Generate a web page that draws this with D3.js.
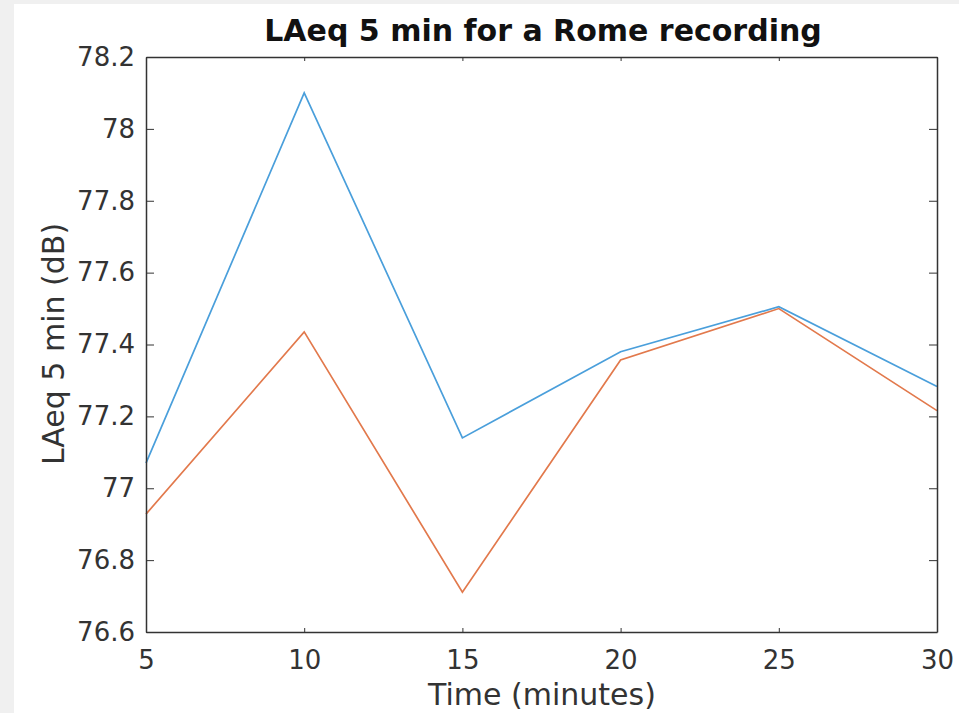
<!DOCTYPE html>
<html>

<head>
    <script src="https://d3js.org/d3.v7.min.js"></script>
    <style>
        body {
            margin: 0;
            background: #f0f0f0;
            font-family: "DejaVu Sans", sans-serif;
        }

        .axis text {
            font-family: "DejaVu Sans", sans-serif;
            font-size: 26px;
            fill: #333;
        }

        .axis path,
        .axis line {
            stroke: #333;
        }

        .axis-title {
            font-size: 30px;
            fill: #333;
        }

        .chart-title {
            font-size: 30px;
            font-weight: bold;
            fill: #111;
        }
    </style>
</head>

<body>
    <script>
        // data
        var minutes = [5, 10, 15, 20, 25, 30];
        var laeqA = [77.07, 78.10, 77.14, 77.38, 77.505, 77.283];
        var laeqB = [76.928, 77.435, 76.711, 77.357, 77.50, 77.216];
        var yTicks = [76.6, 76.8, 77, 77.2, 77.4, 77.6, 77.8, 78, 78.2];
        var xTicks = [5, 10, 15, 20, 25, 30];
        var seriesColors = ["#4a9fdb", "#e2794c"];

        var W = 959,
            H = 713;
        var margin = {
                top: 57,
                right: 22,
                bottom: 81,
                left: 146
            },
            width = W - margin.left - margin.right,
            height = H - margin.top - margin.bottom;

        var svg = d3.select("body").append("svg")
            .attr("width", W)
            .attr("height", H)
            .style("display", "block");

        // white figure area
        svg.append("rect")
            .attr("x", 14)
            .attr("y", 4)
            .attr("width", W - 14)
            .attr("height", H - 4)
            .attr("fill", "#fff");

        var g = svg.append("g")
            .attr("transform", "translate(" + margin.left + "," + margin.top + ")");

        var x = d3.scaleLinear().domain([5, 30]).range([0, width]);
        var y = d3.scaleLinear().domain([76.6, 78.2]).range([height, 0]);

        var fmt = function(d) {
            return String(+d.toFixed(1));
        };

        // lines
        var line = d3.line()
            .x(function(d, i) {
                return x(minutes[i]);
            })
            .y(function(d) {
                return y(d);
            });

        [laeqA, laeqB].forEach(function(s, i) {
            g.append("path")
                .datum(s)
                .attr("fill", "none")
                .attr("stroke", seriesColors[i])
                .attr("stroke-width", 1.7)
                .attr("d", line);
        });

        // axes (box on, ticks inward)
        g.append("g")
            .attr("class", "axis")
            .attr("transform", "translate(0," + height + ")")
            .call(d3.axisBottom(x).tickValues(xTicks).tickSize(-4).tickSizeOuter(0).tickPadding(19).tickFormat(d3.format("d")));

        g.append("g")
            .attr("class", "axis")
            .call(d3.axisLeft(y).tickValues(yTicks).tickSize(-8).tickSizeOuter(0).tickPadding(11).tickFormat(fmt));

        g.append("g")
            .attr("class", "axis")
            .call(d3.axisTop(x).tickValues(xTicks).tickSize(-4).tickSizeOuter(0).tickFormat(""));

        g.append("g")
            .attr("class", "axis")
            .attr("transform", "translate(" + width + ",0)")
            .call(d3.axisRight(y).tickValues(yTicks).tickSize(-8).tickSizeOuter(0).tickFormat(""));

        g.selectAll(".axis path").attr("stroke-width", 1.5);

        // titles
        svg.append("text")
            .attr("class", "chart-title")
            .attr("x", 543)
            .attr("y", 41)
            .attr("text-anchor", "middle")
            .text("LAeq 5 min for a Rome recording");

        svg.append("text")
            .attr("class", "axis-title")
            .attr("x", 542)
            .attr("y", 705)
            .attr("text-anchor", "middle")
            .text("Time (minutes)");

        svg.append("text")
            .attr("class", "axis-title")
            .attr("transform", "translate(64,344) rotate(-90)")
            .attr("text-anchor", "middle")
            .text("LAeq 5 min (dB)");
    </script>
</body>

</html>
